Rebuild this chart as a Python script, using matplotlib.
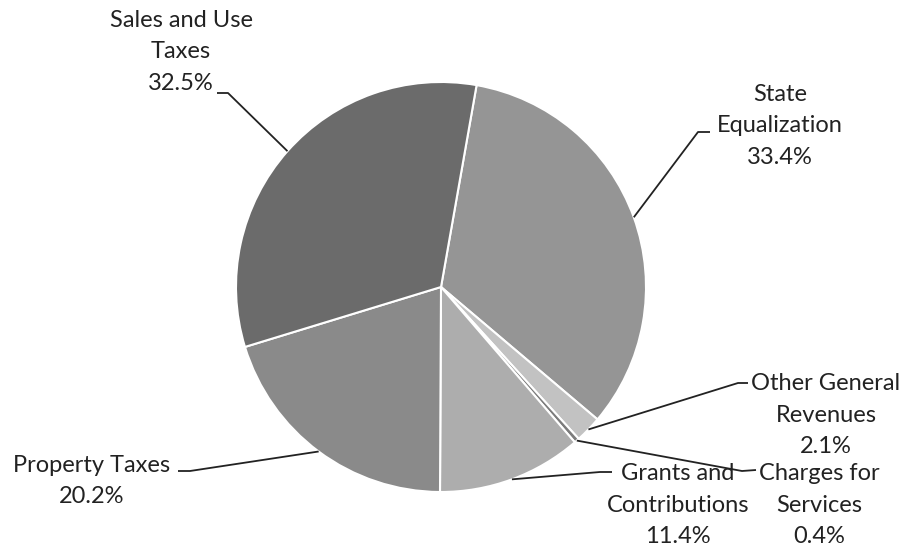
import numpy as np
import matplotlib
matplotlib.use('Agg')
import matplotlib.pyplot as plt

# revenue shares, clockwise from the top
categories = ['State\nEqualization', 'Other General\nRevenues', 'Charges for\nServices',
              'Grants and\nContributions', 'Property Taxes', 'Sales and Use\nTaxes']
shares = [33.4, 2.1, 0.4, 11.4, 20.2, 32.5]
colors = ['#959595', '#c2c2c2', '#7c7c7c', '#adadad', '#8a8a8a', '#6b6b6b']

W, H = 905, 546
CX, CY, R = 441, H - 287, 205

# label layout: text centre, elbow and end of leader line (pixels, y from top)
label_pos = [(780, 126), (826, 415), (819, 505), (678, 505), (92, 481), (181, 52)]
elbows = [((698, 132), (710, 132)), ((738, 383), (748, 383)), ((742, 471), (756, 470)),
          ((600, 472), (612, 472)), ((190, 471), (178, 471)), ((228, 93), (217, 93))]

plt.rcParams['font.family'] = ['Lato', 'DejaVu Sans']

fig = plt.figure(figsize=(W / 100, H / 100), dpi=100)
ax = fig.add_axes([0, 0, 1, 1])

wedges, _ = ax.pie(shares, colors=colors, startangle=80, counterclock=False,
                   center=(CX, CY), radius=R, frame=True,
                   wedgeprops=dict(edgecolor='white', linewidth=1.5))
ax.set_xlim(0, W)
ax.set_ylim(0, H)
ax.set_aspect('equal')
ax.axis('off')

for w, cat, val, (tx, ty), (elb, end) in zip(wedges, categories, shares, label_pos, elbows):
    mid = np.deg2rad((w.theta1 + w.theta2) / 2)
    px, py = CX + R * np.cos(mid), CY + R * np.sin(mid)
    ax.plot([px, elb[0], end[0]], [py, H - elb[1], H - end[1]], color='#222222', lw=1.3,
            solid_capstyle='butt')
    ax.text(tx, H - ty, f'{cat}\n{val:.1f}%', ha='center', va='center', fontsize=17,
            color='#222222', linespacing=1.62, multialignment='center')

fig.savefig('out.png', dpi=100)
